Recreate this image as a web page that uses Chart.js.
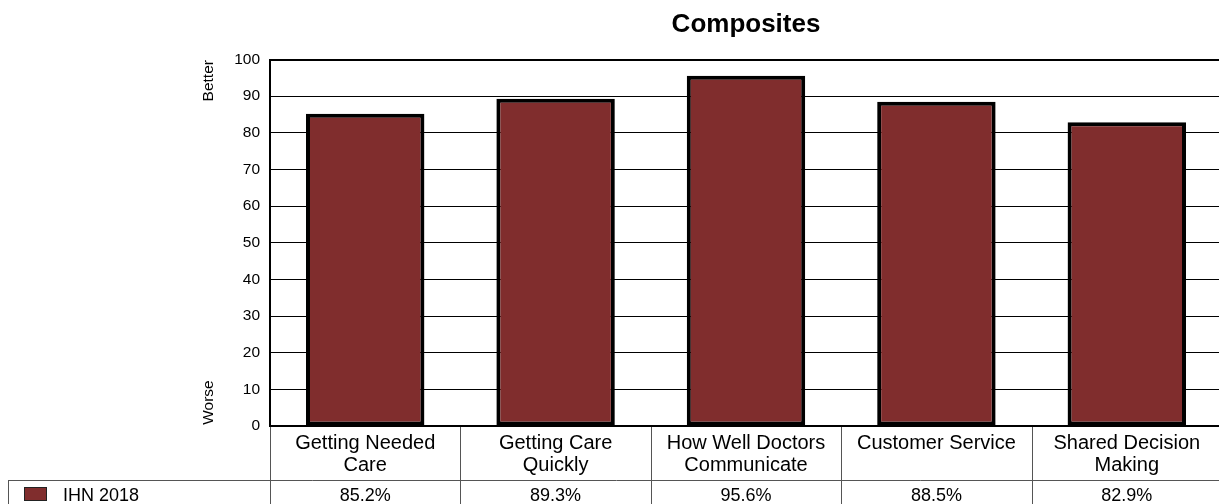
<!DOCTYPE html>
<html><head><meta charset="utf-8">
<style>html,body{margin:0;padding:0;background:#fff;overflow:hidden;} #wrap{width:1225px;height:512px;}</style>
<script src="https://cdn.jsdelivr.net/npm/chart.js@4.4.1/dist/chart.umd.min.js"></script>
</head><body><div id="wrap"><canvas id="c" width="1225" height="512"></canvas></div>
<script>
const categories = [["Getting Needed","Care"],["Getting Care","Quickly"],["How Well Doctors","Communicate"],["Customer Service"],["Shared Decision","Making"]];
const seriesName = "IHN 2018";
const seriesValues = [85.2, 89.3, 95.6, 88.5, 82.9];
const yMin = 0, yMax = 100, yStep = 10;
const titleText = "Composites";
const betterText = "Better", worseText = "Worse";

const FONT = "'Liberation Sans', Arial, Helvetica, sans-serif";
const BAR = "#802D2D";

const tablePlugin = {
  id: 'tablePlugin',
  afterDraw(chart) {
    const ctx = chart.ctx, ca = chart.chartArea, xs = chart.scales.x, ys = chart.scales.y;
    const H = chart.height, W = chart.width;
    ctx.save();
    // title
    ctx.fillStyle = '#000';
    ctx.font = "bold 26px " + FONT;
    ctx.textAlign = 'center'; ctx.textBaseline = 'alphabetic';
    ctx.fillText(titleText, (ca.left + ca.right) / 2, 31.5);
    // better / worse
    ctx.font = "15.5px " + FONT;
    ctx.save(); ctx.translate(213, ys.getPixelForValue(94.2)); ctx.rotate(-Math.PI / 2);
    ctx.fillText(betterText, 0, 0); ctx.restore();
    ctx.save(); ctx.translate(213, ys.getPixelForValue(6.4)); ctx.rotate(-Math.PI / 2);
    ctx.fillText(worseText, 0, 0); ctx.restore();
    // table lines
    const rowY = 480.5;
    ctx.strokeStyle = '#555'; ctx.lineWidth = 1;
    ctx.beginPath();
    ctx.moveTo(8, rowY); ctx.lineTo(W, rowY);
    ctx.moveTo(8.5, rowY); ctx.lineTo(8.5, H);
    ctx.moveTo(270.5, ca.bottom + 1); ctx.lineTo(270.5, H);
    const n = seriesValues.length;
    for (let i = 0; i < n; i++) {
      const c = xs.getPixelForValue(i);
      const next = i < n - 1 ? xs.getPixelForValue(i + 1) : c + (c - xs.getPixelForValue(i - 1));
      const b = Math.round((c + next) / 2) + 0.5;
      ctx.moveTo(b, ca.bottom + 1); ctx.lineTo(b, H);
    }
    ctx.stroke();
    // legend cell
    ctx.fillStyle = BAR; ctx.fillRect(24, 487, 23, 14);
    ctx.strokeStyle = '#222'; ctx.strokeRect(24.5, 487.5, 22, 13);
    ctx.fillStyle = '#000';
    ctx.font = "18px " + FONT; ctx.textAlign = 'left';
    ctx.fillText(chart.data.datasets[0].label, 63, 501);
    // values
    ctx.textAlign = 'center';
    chart.data.datasets[0].data.forEach((v, i) => {
      ctx.fillText(v.toFixed(1) + '%', xs.getPixelForValue(i), 501);
    });
    ctx.restore();
  }
};

new Chart(document.getElementById('c'), {
  type: 'bar',
  data: {
    labels: categories,
    datasets: [{
      label: seriesName,
      data: seriesValues,
      backgroundColor: BAR,
      borderColor: '#000',
      borderWidth: 4,
      borderSkipped: false,
      barPercentage: 0.622,
      categoryPercentage: 1.0
    }]
  },
  options: {
    responsive: false,
    animation: false,
    devicePixelRatio: 1,
    layout: { padding: { top: 59.5, right: 3, left: 0, bottom: 0 } },
    plugins: { legend: { display: false }, title: { display: false }, tooltip: { enabled: false } },
    scales: {
      x: {
        grid: { display: false, drawTicks: false, tickLength: 0 },
        border: { display: true, color: '#000', width: 2 },
        ticks: { color: '#000', font: { family: FONT, size: 20, lineHeight: 1.1 }, padding: 6, maxRotation: 0, autoSkip: false },
        afterFit(s) { s.height = 512 - 426; }
      },
      y: {
        min: yMin, max: yMax,
        grid: { color: '#000', lineWidth: (c) => (c.tick && c.tick.value === yMax ? 2 : 1), drawTicks: false, tickLength: 0 },
        border: { display: true, color: '#000', width: 2 },
        ticks: { stepSize: yStep, color: '#000', font: { family: FONT, size: 15.5 }, padding: 10 },
        afterFit(s) { s.width = 270; }
      }
    }
  },
  plugins: [tablePlugin]
});
</script></body></html>
